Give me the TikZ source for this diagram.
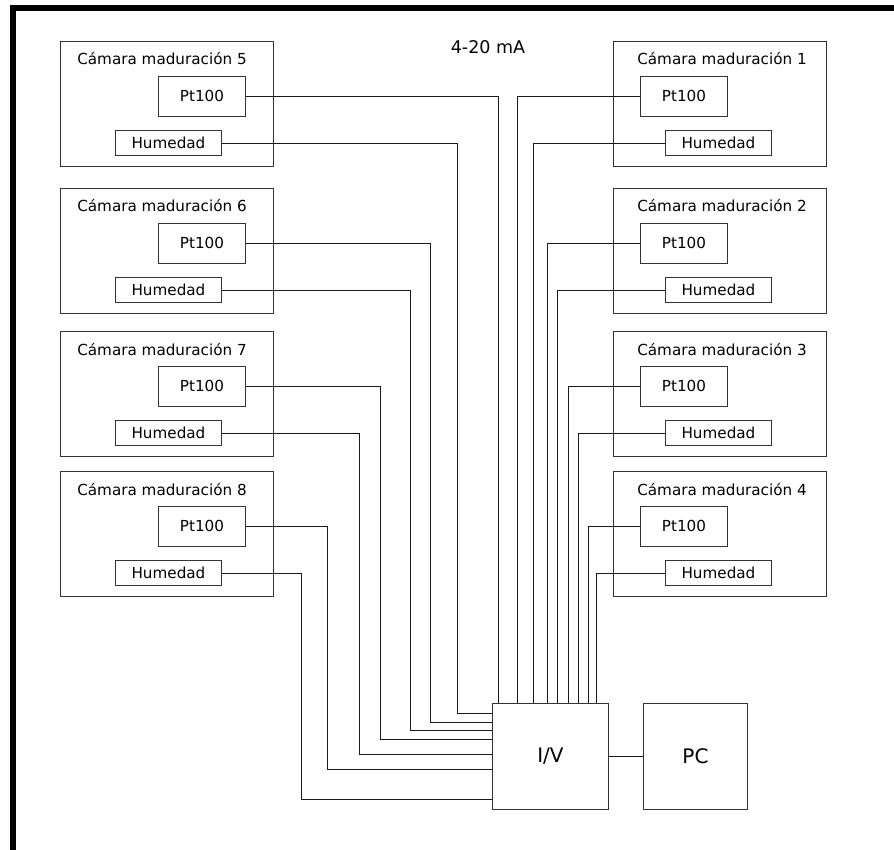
\documentclass[tikz,border=0pt]{standalone}
\usepackage{fontspec}
\setmainfont{DejaVu Sans}
\begin{document}
\begin{tikzpicture}[x=1pt,y=-1pt,
  wire/.style={draw=black!90, line width=0.8pt},
  chamber/.style={draw=black!80, line width=0.9pt, rectangle, inner sep=0pt,
    anchor=north west, minimum width=213pt, minimum height=125pt},
  sensor/.style={draw=black!80, line width=0.9pt, rectangle, inner sep=0pt,
    anchor=north west, font=\fontsize{15.2}{18}\selectfont},
  ptbox/.style={sensor, minimum width=87pt, minimum height=40pt},
  humbox/.style={sensor, minimum width=106pt, minimum height=25pt},
  title/.style={anchor=base, inner sep=0pt, font=\fontsize{15.2}{18}\selectfont},
  unit/.style={draw=black!80, line width=0.9pt, rectangle, inner sep=0pt,
    anchor=north west, font=\fontsize{20}{24}\selectfont}]
\useasboundingbox (0,0) rectangle (894,850);

% frame bars (left and top)
\fill[black] (10,5) rectangle (894,11);
\fill[black] (10,5) rectangle (16,850);

% signal label
\node[font=\fontsize{17.5}{20}\selectfont, inner sep=0pt] (ma) at (488,47) {4-20 mA};

% left-hand chambers
\foreach \n/\t in {5/41,6/188,7/331,8/471} {
  \node[chamber] (c\n) at (60,\t) {};
  \node[title] (t\n) at (162,\t+24) {Cámara maduración \n};
  \node[ptbox] (p\n) at (158,\t+35) {Pt100};
  \node[humbox] (h\n) at (115,\t+89) {Humedad};
}

% right-hand chambers
\foreach \n/\t in {1/41,2/188,3/331,4/471} {
  \node[chamber] (c\n) at (613,\t) {};
  \node[title] (t\n) at (722,\t+24) {Cámara maduración \n};
  \node[ptbox] (p\n) at (640,\t+35) {Pt100};
  \node[humbox] (h\n) at (665,\t+89) {Humedad};
}

% converter and computer
\node[unit, minimum width=116pt, minimum height=106pt] (iv) at (492,703) {I/V};
\node[unit, minimum width=104pt, minimum height=106pt] (pc) at (643,703) {PC};
\draw[wire] (iv.east) -- (pc.west);

% wiring from the left chambers
\draw[wire] (p5.east) -| ([xshift=6pt]iv.north west);
\draw[wire] (h5.east) -| ([xshift=-35pt,yshift=-10pt]iv.north west) -- ([yshift=-10pt]iv.north west);
\draw[wire] (p6.east) -| ([xshift=-62pt,yshift=-19pt]iv.north west) -- ([yshift=-19pt]iv.north west);
\draw[wire] (h6.east) -| ([xshift=-82pt,yshift=-27pt]iv.north west) -- ([yshift=-27pt]iv.north west);
\draw[wire] (p7.east) -| ([xshift=-112pt,yshift=-36pt]iv.north west) -- ([yshift=-36pt]iv.north west);
\draw[wire] (h7.east) -| ([xshift=-133pt,yshift=-51pt]iv.north west) -- ([yshift=-51pt]iv.north west);
\draw[wire] (p8.east) -| ([xshift=-165pt,yshift=-66pt]iv.north west) -- ([yshift=-66pt]iv.north west);
\draw[wire] (h8.east) -| ([xshift=-191pt,yshift=-96pt]iv.north west) -- ([yshift=-96pt]iv.north west);

% wiring from the right chambers
\draw[wire] (p1.west) -| ([xshift=25pt]iv.north west);
\draw[wire] (h1.west) -| ([xshift=41pt]iv.north west);
\draw[wire] (p2.west) -| ([xshift=55pt]iv.north west);
\draw[wire] (h2.west) -| ([xshift=65pt]iv.north west);
\draw[wire] (p3.west) -| ([xshift=76pt]iv.north west);
\draw[wire] (h3.west) -| ([xshift=86pt]iv.north west);
\draw[wire] (p4.west) -| ([xshift=96pt]iv.north west);
\draw[wire] (h4.west) -| ([xshift=104pt]iv.north west);
\end{tikzpicture}
\end{document}
